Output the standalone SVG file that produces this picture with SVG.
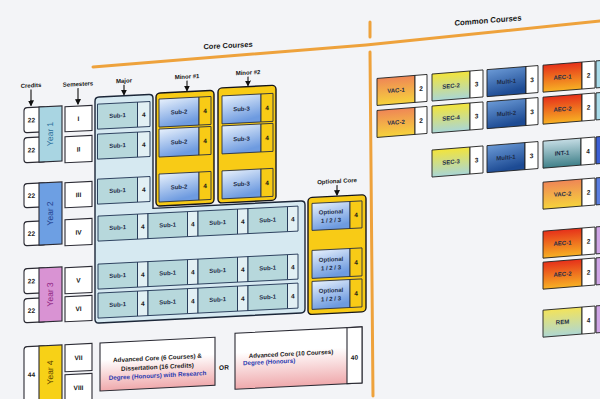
<svg xmlns="http://www.w3.org/2000/svg" width="600" height="399" viewBox="0 0 600 399">
<defs>
<linearGradient id="gMin" x1="0" y1="0" x2="0.35" y2="1"><stop offset="0" stop-color="#e8f1fc"/><stop offset="1" stop-color="#6e9be0"/></linearGradient>
<linearGradient id="gVAC" x1="0" y1="0" x2="0" y2="1"><stop offset="0" stop-color="#ef8656"/><stop offset="1" stop-color="#f6d33c"/></linearGradient>
<linearGradient id="gSEC" x1="0" y1="0" x2="0" y2="1"><stop offset="0" stop-color="#f3e43a"/><stop offset="1" stop-color="#a9d6d6"/></linearGradient>
<linearGradient id="gMul" x1="0" y1="0" x2="0.3" y2="1"><stop offset="0" stop-color="#6b9ad6"/><stop offset="1" stop-color="#1d4b94"/></linearGradient>
<linearGradient id="gAEC" x1="0" y1="0" x2="0" y2="1"><stop offset="0" stop-color="#e6301a"/><stop offset="1" stop-color="#f7b124"/></linearGradient>
<linearGradient id="gINT" x1="0" y1="0" x2="0" y2="1"><stop offset="0" stop-color="#c4dce4"/><stop offset="1" stop-color="#3f8089"/></linearGradient>
<linearGradient id="gREM" x1="0" y1="0" x2="0" y2="1"><stop offset="0" stop-color="#f3e35a"/><stop offset="1" stop-color="#aed7d3"/></linearGradient>
<linearGradient id="gPink" x1="0" y1="0" x2="0" y2="1"><stop offset="0.35" stop-color="#ffffff"/><stop offset="1" stop-color="#efa9ac"/></linearGradient>
<marker id="ah" markerWidth="6" markerHeight="6" refX="5" refY="3" orient="auto" markerUnits="userSpaceOnUse"><path d="M0,0 L6,3 L0,6 z" fill="#111"/></marker>
</defs>
<style>
.t{font-family:"Liberation Sans",Arial,sans-serif;font-weight:bold;text-anchor:middle;dominant-baseline:central}
.hd{font-size:6px;fill:#151515}
.s{font-size:6px;fill:#1d2c48}
.n{font-size:6.5px;fill:#151515}
.yr{font-size:8.5px;font-weight:normal}
.box{fill:#fff;stroke:#2a2a33;stroke-width:1.1}
.mj{fill:#b7d8dc;stroke:#1f3352;stroke-width:0.9}
.mj4{fill:#e2f0f4;stroke:#1f3352;stroke-width:0.9}
.mn{fill:url(#gMin);stroke:#2a3040;stroke-width:0.9}
.y4{fill:#f8cb16;stroke:#2a3040;stroke-width:0.9}
.yb{fill:#f8cb16;stroke:#15151a;stroke-width:1.4}
.num{fill:#fff;stroke:#222;stroke-width:0.9}
.cc{stroke:#222;stroke-width:0.9}
.arr{stroke:#111;stroke-width:1.1;fill:none;marker-end:url(#ah)}
.or{stroke:#eea23c;stroke-width:3;fill:none;stroke-linecap:round}
</style>
<rect width="600" height="399" fill="#f3f4f7"/>

<g id="dividers">
<polyline class="or" points="93,67 366,45 600,21"/>
<line class="or" x1="370" y1="22" x2="370" y2="37"/>
<line class="or" x1="370" y1="52" x2="373" y2="396"/>
</g>

<g id="core" transform="matrix(1,-0.05,0,1,0,0)">
<text class="t" x="228" y="57" font-size="7.5" fill="#151515">Core Courses</text>
<g id="headers">
<text class="t hd" x="31" y="87">Credits</text>
<text class="t hd" x="78" y="88">Semesters</text>
<text class="t hd" x="124" y="87">Major</text>
<text class="t hd" x="187" y="86">Minor #1</text>
<text class="t hd" x="248" y="85">Minor #2</text>
<text class="t hd" x="337" y="198">Optional Core</text>
</g>
<g id="connectors">
<line class="arr" x1="31" y1="91" x2="31" y2="107"/>
<line class="arr" x1="78" y1="92" x2="78" y2="108"/>
<line class="arr" x1="124" y1="91" x2="124" y2="101"/>
<line class="arr" x1="187" y1="90" x2="187" y2="100"/>
<line class="arr" x1="248" y1="89" x2="248" y2="98"/>
<line class="arr" x1="337" y1="202" x2="337" y2="212"/>
</g>

<g id="year1">
<rect class="box" x="24" y="109" width="22" height="25" rx="3"/>
<rect class="box" x="24" y="139" width="22" height="25" rx="3"/>
<rect x="39" y="109" width="23" height="55" fill="#a9d5e2" stroke="#2a2a33" stroke-width="1.1"/>
<text class="t n" x="31.5" y="121.5">22</text>
<text class="t n" x="31.5" y="151.5">22</text>
<text class="t yr" x="50.5" y="136.5" fill="#2a6e9a" transform="rotate(-90 50.5 136.5)">Year 1</text>
</g>
<g id="year2">
<rect class="box" x="24" y="185" width="22" height="24" rx="3"/>
<rect class="box" x="24" y="223" width="22" height="24" rx="3"/>
<rect x="39" y="185" width="23" height="62" fill="#6d9fe3" stroke="#2a2a33" stroke-width="1.1"/>
<text class="t n" x="31.5" y="197">22</text>
<text class="t n" x="31.5" y="235">22</text>
<text class="t yr" x="50.5" y="216" fill="#1e3c8c" transform="rotate(-90 50.5 216)">Year 2</text>
</g>
<g id="year3">
<rect class="box" x="24" y="270" width="22" height="25" rx="3"/>
<rect class="box" x="24" y="300" width="22" height="24" rx="3"/>
<rect x="39" y="270" width="23" height="54" fill="#d993d3" stroke="#2a2a33" stroke-width="1.1"/>
<text class="t n" x="31.5" y="282.5">22</text>
<text class="t n" x="31.5" y="312">22</text>
<text class="t yr" x="50.5" y="297" fill="#8c1c80" transform="rotate(-90 50.5 297)">Year 3</text>
</g>
<g id="year4">
<rect class="box" x="24" y="348" width="22" height="60" rx="3"/>
<rect x="39" y="348" width="23" height="60" fill="#f7d117" stroke="#2a2a33" stroke-width="1.1"/>
<text class="t n" x="31.5" y="376">44</text>
<text class="t yr" x="50.5" y="375" fill="#5a4200" transform="rotate(-90 50.5 375)">Year 4</text>
</g>

<g id="semesters">
<rect class="box" x="65" y="110" width="27" height="25"/><text class="t n" x="78.5" y="122.5">I</text>
<rect class="box" x="65" y="140" width="27" height="26"/><text class="t n" x="78.5" y="153">II</text>
<rect class="box" x="65" y="186" width="27" height="25"/><text class="t n" x="78.5" y="198.5">III</text>
<rect class="box" x="65" y="223" width="27" height="26"/><text class="t n" x="78.5" y="236">IV</text>
<rect class="box" x="65" y="271" width="27" height="26"/><text class="t n" x="78.5" y="284">V</text>
<rect class="box" x="65" y="300" width="27" height="25"/><text class="t n" x="78.5" y="312.5">VI</text>
<rect class="box" x="65" y="348" width="27" height="27"/><text class="t n" x="78.5" y="361.5">VII</text>
<rect class="box" x="65" y="378" width="27" height="27"/><text class="t n" x="78.5" y="391.5">VIII</text>
</g>

<g id="major">
<path d="M99,102 H149 Q153,102 153,106 V216 H301 Q305,216 305,220 V324 Q305,328 301,328 H99 Q95,328 95,324 V106 Q95,102 99,102 Z" fill="#d6e9f1" stroke="#1b2638" stroke-width="1.4"/>
<rect class="mj" x="97.5" y="109" width="40" height="25"/><rect class="mj4" x="137.5" y="109" width="12.5" height="25"/>
<text class="t s" x="117.5" y="121.5">Sub-1</text><text class="t n" x="143.7" y="121.5">4</text>
<rect class="mj" x="97.5" y="139" width="40" height="25"/><rect class="mj4" x="137.5" y="139" width="12.5" height="25"/>
<text class="t s" x="117.5" y="151.5">Sub-1</text><text class="t n" x="143.7" y="151.5">4</text>
<rect class="mj" x="97.5" y="184" width="40" height="25"/><rect class="mj4" x="137.5" y="184" width="12.5" height="25"/>
<text class="t s" x="117.5" y="196.5">Sub-1</text><text class="t n" x="143.7" y="196.5">4</text>

<rect class="mj" x="98" y="221" width="39.5" height="25"/><rect class="mj4" x="137.5" y="221" width="10.5" height="25"/>
<rect class="mj" x="148" y="221" width="39.5" height="25"/><rect class="mj4" x="187.5" y="221" width="10.5" height="25"/>
<rect class="mj" x="198" y="221" width="39.5" height="25"/><rect class="mj4" x="237.5" y="221" width="10.5" height="25"/>
<rect class="mj" x="248" y="221" width="39.5" height="25"/><rect class="mj4" x="287.5" y="221" width="10.5" height="25"/>
<text class="t s" x="117.7" y="233.5">Sub-1</text><text class="t n" x="142.7" y="233.5">4</text>
<text class="t s" x="167.7" y="233.5">Sub-1</text><text class="t n" x="192.7" y="233.5">4</text>
<text class="t s" x="217.7" y="233.5">Sub-1</text><text class="t n" x="242.7" y="233.5">4</text>
<text class="t s" x="267.7" y="233.5">Sub-1</text><text class="t n" x="292.7" y="233.5">4</text>

<rect class="mj" x="98" y="269" width="39.5" height="25"/><rect class="mj4" x="137.5" y="269" width="10.5" height="25"/>
<rect class="mj" x="148" y="269" width="39.5" height="25"/><rect class="mj4" x="187.5" y="269" width="10.5" height="25"/>
<rect class="mj" x="198" y="269" width="39.5" height="25"/><rect class="mj4" x="237.5" y="269" width="10.5" height="25"/>
<rect class="mj" x="248" y="269" width="39.5" height="25"/><rect class="mj4" x="287.5" y="269" width="10.5" height="25"/>
<text class="t s" x="117.7" y="281.5">Sub-1</text><text class="t n" x="142.7" y="281.5">4</text>
<text class="t s" x="167.7" y="281.5">Sub-1</text><text class="t n" x="192.7" y="281.5">4</text>
<text class="t s" x="217.7" y="281.5">Sub-1</text><text class="t n" x="242.7" y="281.5">4</text>
<text class="t s" x="267.7" y="281.5">Sub-1</text><text class="t n" x="292.7" y="281.5">4</text>

<rect class="mj" x="98" y="298" width="39.5" height="25"/><rect class="mj4" x="137.5" y="298" width="10.5" height="25"/>
<rect class="mj" x="148" y="298" width="39.5" height="25"/><rect class="mj4" x="187.5" y="298" width="10.5" height="25"/>
<rect class="mj" x="198" y="298" width="39.5" height="25"/><rect class="mj4" x="237.5" y="298" width="10.5" height="25"/>
<rect class="mj" x="248" y="298" width="39.5" height="25"/><rect class="mj4" x="287.5" y="298" width="10.5" height="25"/>
<text class="t s" x="117.7" y="310.5">Sub-1</text><text class="t n" x="142.7" y="310.5">4</text>
<text class="t s" x="167.7" y="310.5">Sub-1</text><text class="t n" x="192.7" y="310.5">4</text>
<text class="t s" x="217.7" y="310.5">Sub-1</text><text class="t n" x="242.7" y="310.5">4</text>
<text class="t s" x="267.7" y="310.5">Sub-1</text><text class="t n" x="292.7" y="310.5">4</text>
</g>

<g id="minor1">
<rect class="yb" x="156" y="101" width="58" height="113" rx="4"/>
<rect class="mn" x="159" y="107" width="40" height="28"/><rect class="y4" x="199" y="107" width="12" height="28"/>
<rect class="mn" x="159" y="137" width="40" height="28"/><rect class="y4" x="199" y="137" width="12" height="28"/>
<rect class="mn" x="159" y="182" width="40" height="28"/><rect class="y4" x="199" y="182" width="12" height="28"/>
<text class="t s" x="179" y="121">Sub-2</text><text class="t n" x="205" y="121">4</text>
<text class="t s" x="179" y="151">Sub-2</text><text class="t n" x="205" y="151">4</text>
<text class="t s" x="179" y="196">Sub-2</text><text class="t n" x="205" y="196">4</text>
</g>
<g id="minor2">
<rect class="yb" x="218" y="99" width="58" height="115" rx="4"/>
<rect class="mn" x="222" y="107" width="39" height="28"/><rect class="y4" x="261" y="107" width="12" height="28"/>
<rect class="mn" x="222" y="137" width="39" height="28"/><rect class="y4" x="261" y="137" width="12" height="28"/>
<rect class="mn" x="222" y="182" width="39" height="28"/><rect class="y4" x="261" y="182" width="12" height="28"/>
<text class="t s" x="241.5" y="121">Sub-3</text><text class="t n" x="267" y="121">4</text>
<text class="t s" x="241.5" y="151">Sub-3</text><text class="t n" x="267" y="151">4</text>
<text class="t s" x="241.5" y="196">Sub-3</text><text class="t n" x="267" y="196">4</text>
</g>
<g id="optional">
<rect class="yb" x="308" y="213" width="58" height="117" rx="4"/>
<rect class="mn" x="312" y="219" width="38" height="27"/><rect class="y4" x="350" y="219" width="12" height="27"/>
<rect class="mn" x="312" y="266" width="38" height="28"/><rect class="y4" x="350" y="266" width="12" height="28"/>
<rect class="mn" x="312" y="297" width="38" height="28"/><rect class="y4" x="350" y="297" width="12" height="28"/>
<text class="t s" x="331" y="228.5" fill="#1a2a60">Optional</text><text class="t s" x="331" y="237" fill="#1a2a60">1 / 2 / 3</text><text class="t n" x="356" y="232.5">4</text>
<text class="t s" x="331" y="276" fill="#1a2a60">Optional</text><text class="t s" x="331" y="284.5" fill="#1a2a60">1 / 2 / 3</text><text class="t n" x="356" y="280">4</text>
<text class="t s" x="331" y="307" fill="#1a2a60">Optional</text><text class="t s" x="331" y="315.5" fill="#1a2a60">1 / 2 / 3</text><text class="t n" x="356" y="311">4</text>
</g>

<g id="adv-research">
<rect x="100" y="348" width="115" height="48" fill="url(#gPink)" stroke="#2a2a33" stroke-width="1.1"/>
<text class="t" x="157.5" y="365.5" font-size="6.3" fill="#1a1a1a">Advanced Core (6 Courses) &amp;</text>
<text class="t" x="157.5" y="374.5" font-size="6.3" fill="#1a1a1a">Dissertation (16 Credits)</text>
<text class="t" x="157.5" y="383" font-size="6.3" fill="#2a3ab0">Degree (Honours) with Research</text>
</g>
<text class="t n" x="224" y="378.5">OR</text>
<g id="adv-honours">
<rect x="235" y="345" width="127" height="56" fill="url(#gPink)" stroke="#2a2a33" stroke-width="1.1"/>
<rect x="347" y="345" width="15" height="56" fill="#fff" stroke="#2a2a33" stroke-width="1.1"/>
<text class="t" x="291" y="368" font-size="6.2" fill="#1a1a1a">Advanced Core (10 Courses)</text>
<text class="t" x="243" y="375" font-size="6.2" fill="#2a3ab0" style="text-anchor:start">Degree (Honours)</text>
<text class="t n" x="354.5" y="375">40</text>
</g>
</g>

<g id="common" transform="matrix(1,-0.08,0,1,0,29.6)">
<text class="t" x="488" y="30" font-size="7.8" fill="#151515">Common Courses</text>
<g id="vac1"><rect class="cc" x="377" y="79" width="38" height="27" fill="url(#gVAC)"/><rect class="num" x="415" y="79" width="12" height="27"/><text class="t s" x="396" y="92.5" fill="#7a2a10">VAC-1</text><text class="t n" x="421" y="92.5">2</text></g>
<g id="sec2"><rect class="cc" x="432" y="79" width="38" height="27" fill="url(#gSEC)"/><rect class="num" x="470" y="79" width="13" height="27"/><text class="t s" x="451" y="92.5" fill="#3a3a1a">SEC-2</text><text class="t n" x="476.5" y="92.5">3</text></g>
<g id="multi1"><rect class="cc" x="487" y="79" width="39" height="27" fill="url(#gMul)"/><rect class="num" x="526" y="79" width="12" height="27"/><text class="t s" x="506.5" y="92.5" fill="#e8eef8">Multi-1</text><text class="t n" x="532" y="92.5">3</text></g>
<g id="aec1"><rect class="cc" x="543" y="79" width="39" height="27" fill="url(#gAEC)"/><rect class="num" x="582" y="79" width="13" height="27"/><text class="t s" x="562.5" y="92.5" fill="#7a1010">AEC-1</text><text class="t n" x="588.5" y="92.5">2</text></g>
<rect class="cc" x="596" y="79" width="14" height="27" fill="#a9dbe9"/>

<g id="vac2"><rect class="cc" x="377" y="111" width="38" height="27" fill="url(#gVAC)"/><rect class="num" x="415" y="111" width="12" height="27"/><text class="t s" x="396" y="124.5" fill="#7a2a10">VAC-2</text><text class="t n" x="421" y="124.5">2</text></g>
<g id="sec4"><rect class="cc" x="432" y="111" width="38" height="27" fill="url(#gSEC)"/><rect class="num" x="470" y="111" width="13" height="27"/><text class="t s" x="451" y="124.5" fill="#3a3a1a">SEC-4</text><text class="t n" x="476.5" y="124.5">3</text></g>
<g id="multi2"><rect class="cc" x="487" y="111" width="39" height="27" fill="url(#gMul)"/><rect class="num" x="526" y="111" width="12" height="27"/><text class="t s" x="506.5" y="124.5" fill="#e8eef8">Multi-2</text><text class="t n" x="532" y="124.5">3</text></g>
<g id="aec2"><rect class="cc" x="543" y="111" width="39" height="27" fill="url(#gAEC)"/><rect class="num" x="582" y="111" width="13" height="27"/><text class="t s" x="562.5" y="124.5" fill="#7a1010">AEC-2</text><text class="t n" x="588.5" y="124.5">2</text></g>
<rect class="cc" x="596" y="111" width="14" height="27" fill="#a9dbe9"/>

<g id="sec3"><rect class="cc" x="432" y="155" width="38" height="27" fill="url(#gSEC)"/><rect class="num" x="470" y="155" width="13" height="27"/><text class="t s" x="451" y="168.5" fill="#3a3a1a">SEC-3</text><text class="t n" x="476.5" y="168.5">3</text></g>
<g id="multi1b"><rect class="cc" x="487" y="155" width="38" height="27" fill="url(#gMul)"/><rect class="num" x="525" y="155" width="13" height="27"/><text class="t s" x="506" y="168.5" fill="#e8eef8">Multi-1</text><text class="t n" x="531.5" y="168.5">3</text></g>
<g id="int1"><rect class="cc" x="543" y="155" width="38" height="27" fill="url(#gINT)"/><rect class="num" x="581" y="155" width="14" height="27"/><text class="t s" x="562" y="168.5" fill="#1a2a3a">INT-1</text><text class="t n" x="588" y="168.5">4</text></g>
<rect class="cc" x="596" y="155" width="14" height="27" fill="#3c5fd4"/>

<g id="vac2b"><rect class="cc" x="543" y="196" width="39" height="27" fill="url(#gVAC)"/><rect class="num" x="582" y="196" width="13" height="27"/><text class="t s" x="562.5" y="209.5" fill="#7a2a10">VAC-2</text><text class="t n" x="588.5" y="209.5">2</text></g>
<rect class="cc" x="596" y="196" width="14" height="27" fill="#5a7ee0"/>

<g id="aec1b"><rect class="cc" x="543" y="245" width="39" height="27" fill="url(#gAEC)"/><rect class="num" x="582" y="245" width="13" height="27"/><text class="t s" x="562.5" y="258.5" fill="#7a1010">AEC-1</text><text class="t n" x="588.5" y="258.5">2</text></g>
<rect class="cc" x="596" y="245" width="14" height="27" fill="#cfa6e6"/>
<g id="aec2b"><rect class="cc" x="543" y="276" width="39" height="27" fill="url(#gAEC)"/><rect class="num" x="582" y="276" width="13" height="27"/><text class="t s" x="562.5" y="289.5" fill="#7a1010">AEC-2</text><text class="t n" x="588.5" y="289.5">2</text></g>
<rect class="cc" x="596" y="276" width="14" height="27" fill="#cfa6e6"/>
<g id="rem"><rect class="cc" x="543" y="324" width="39" height="27" fill="url(#gREM)"/><rect class="num" x="582" y="324" width="13" height="27"/><text class="t s" x="562.5" y="337.5" fill="#2a3a3a">REM</text><text class="t n" x="588.5" y="337.5">4</text></g>
<rect class="cc" x="596" y="324" width="14" height="27" fill="#cfa6e6"/>
</g>
</svg>
